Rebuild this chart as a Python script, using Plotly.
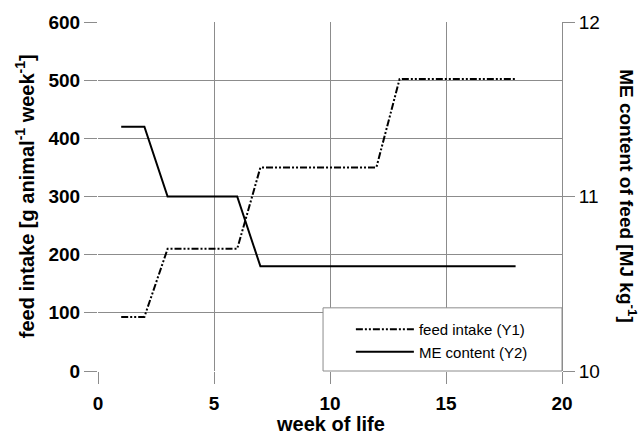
import plotly.graph_objects as go

weeks = [1, 2, 3, 6, 7, 12, 13, 18]
feed_intake = [93, 93, 210, 210, 350, 350, 502, 502]
me_weeks = [1, 2, 3, 6, 7, 18]
me_content = [11.4, 11.4, 11.0, 11.0, 10.6, 10.6]

x_ticks = [0, 5, 10, 15, 20]
y1_ticks = [0, 100, 200, 300, 400, 500, 600]
y2_ticks = [10, 11, 12]

FONT = "Liberation Sans"
GRID = "#8c8c8c"

fig = go.Figure()
fig.add_trace(go.Scatter(
    x=weeks, y=feed_intake, mode="lines", name="feed intake (Y1)",
    line=dict(color="black", width=2, dash="7px,2px,2px,2px,2px,2px"),
    yaxis="y"))
fig.add_trace(go.Scatter(
    x=me_weeks, y=me_content, mode="lines", name="ME content (Y2)",
    line=dict(color="black", width=2), yaxis="y2"))

tickfont = dict(family=FONT, size=19, color="black", weight="bold")
titlefont = dict(family=FONT, size=20, color="black", weight="bold")

fig.update_layout(
    width=640, height=436,
    margin=dict(l=98, r=78, t=22, b=65),
    paper_bgcolor="white", plot_bgcolor="white",
    showlegend=True,
    xaxis=dict(range=[0, 20], tickvals=x_ticks, showgrid=True, gridcolor=GRID,
               gridwidth=1, zeroline=False, showline=False,
               ticks="outside", ticklen=12, tickcolor=GRID, tickwidth=1,
               ticklabelstandoff=3, tickfont=tickfont),
    yaxis=dict(range=[0, 600], tickvals=y1_ticks, showgrid=True, gridcolor=GRID,
               gridwidth=1, zeroline=False, showline=False,
               ticks="outside", ticklen=13, tickcolor=GRID, tickwidth=1,
               tickfont=tickfont),
    yaxis2=dict(range=[10, 12], tickvals=y2_ticks, overlaying="y", side="right",
                showgrid=False, zeroline=False, showline=True, linecolor=GRID,
                ticks="outside", ticklen=12, tickcolor=GRID, tickwidth=1,
                tickfont=dict(family=FONT, size=19, color="black")),
    legend=dict(x=0.545, y=0.166, xanchor="left", yanchor="top",
                bgcolor="rgba(0,0,0,0)", borderwidth=0,
                font=dict(family=FONT, size=15, color="black"),
                itemwidth=58, tracegroupgap=0),
    shapes=[dict(type="rect", xref="paper", yref="paper",
                 x0=0.485, x1=1.0, y0=0.0, y1=0.181,
                 fillcolor="white", line=dict(color=GRID, width=1),
                 layer="above")],
    annotations=[
        dict(text="week of life", xref="paper", yref="paper", x=0.5, y=-0.153,
             xanchor="center", yanchor="middle", showarrow=False,
             font=titlefont),
        dict(text="feed intake [g animal<sup>-1</sup> week<sup>-1</sup>]",
             xref="paper", yref="paper", x=-0.158, y=0.5, textangle=-90,
             xanchor="center", yanchor="middle", showarrow=False,
             font=titlefont),
        dict(text="ME content of feed [MJ kg<sup>-1</sup>]",
             xref="paper", yref="paper", x=1.143, y=0.5, textangle=90,
             xanchor="center", yanchor="middle", showarrow=False,
             font=dict(family=FONT, size=19, color="black", weight="bold")),
    ],
)

fig.write_html("out.html", config={"displayModeBar": False},
               post_script="document.body.style.margin='0';")
